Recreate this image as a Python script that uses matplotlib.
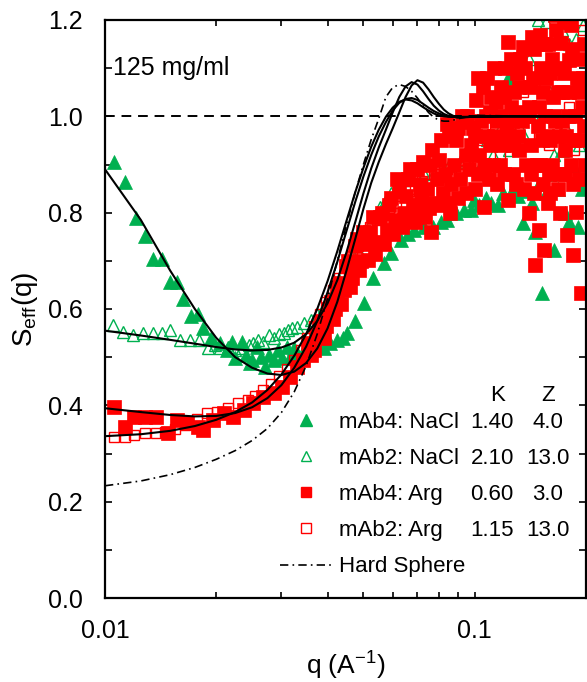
import numpy as np
import matplotlib.pyplot as plt
from matplotlib.lines import Line2D
from matplotlib.ticker import MultipleLocator, FuncFormatter, NullFormatter, LogLocator

# fonts / ticks
plt.rcParams['font.family'] = ['Liberation Sans', 'DejaVu Sans']
plt.rcParams['mathtext.fontset'] = 'custom'
plt.rcParams['mathtext.rm'] = 'Liberation Sans'
plt.rcParams['mathtext.it'] = 'Liberation Sans:italic'
plt.rcParams['xtick.direction'] = 'in'
plt.rcParams['ytick.direction'] = 'in'

GREEN = '#00B050'
RED = '#FF0000'

# ---- data: mAb4 NaCl (filled triangles)
q_4n = [0.0106, 0.0113, 0.0121, 0.0128, 0.0135, 0.0143, 0.0150, 0.0157, 0.0163, 0.0171,
        0.0178, 0.0184, 0.0193, 0.0205, 0.0214, 0.0221, 0.0225, 0.0235, 0.0241, 0.0247,
        0.0250, 0.0258, 0.0265, 0.0271, 0.0278, 0.0286, 0.0294, 0.0302, 0.0311, 0.0317,
        0.0324, 0.0333, 0.0345, 0.0360, 0.0375, 0.0390, 0.0407, 0.0425, 0.0440, 0.0452,
        0.0475, 0.0501, 0.0532, 0.0567, 0.0593, 0.0630, 0.0660, 0.0684, 0.0730, 0.0773,
        0.0810, 0.0843, 0.0890, 0.0935, 0.0978, 0.0995, 0.1030, 0.1070, 0.1110, 0.1158,
        0.1190, 0.1230, 0.1270, 0.1310, 0.1350, 0.1390, 0.1430, 0.1460, 0.1490, 0.1520,
        0.1560, 0.1600, 0.1640, 0.1680, 0.1720, 0.1760, 0.1800, 0.1850, 0.1900, 0.1950]
s_4n = [0.905, 0.864, 0.789, 0.752, 0.704, 0.704, 0.656, 0.656, 0.621, 0.585,
        0.590, 0.560, 0.540, 0.529, 0.515, 0.532, 0.498, 0.532, 0.505, 0.488,
        0.494, 0.521, 0.500, 0.480, 0.505, 0.494, 0.515, 0.498, 0.521, 0.500,
        0.519, 0.505, 0.515, 0.520, 0.525, 0.520, 0.529, 0.535, 0.540, 0.550,
        0.575, 0.612, 0.664, 0.695, 0.716, 0.743, 0.755, 0.764, 0.770, 0.770,
        0.780, 0.785, 0.800, 0.805, 0.805, 0.826, 0.815, 0.830, 0.820, 0.816,
        0.840, 1.080, 0.850, 0.835, 0.778, 0.845, 0.820, 0.760, 0.860, 0.633,
        0.840, 0.880, 0.722, 0.850, 0.930, 0.800, 0.780, 0.900, 0.770, 0.850]

# ---- mAb2 NaCl (open triangles)
q_2n = [0.0105, 0.0112, 0.0119, 0.0127, 0.0135, 0.0143, 0.0150, 0.0160, 0.0170, 0.0180,
        0.0190, 0.0198, 0.0205, 0.0215, 0.0225, 0.0235, 0.0245, 0.0252, 0.0260, 0.0268,
        0.0277, 0.0286, 0.0295, 0.0304, 0.0313, 0.0321, 0.0330, 0.0345, 0.0360, 0.0375,
        0.0390, 0.0403, 0.0415, 0.0430, 0.0453, 0.0468, 0.0482, 0.0497, 0.0512, 0.0535,
        0.0556, 0.0575, 0.0593, 0.0620, 0.0643, 0.0670, 0.0700, 0.0730, 0.0760, 0.0790,
        0.0820, 0.0850, 0.0880, 0.0910, 0.0940, 0.0970, 0.1000, 0.1040, 0.1080, 0.1120,
        0.1160, 0.1200, 0.1240, 0.1280, 0.1320, 0.1360, 0.1400, 0.1440, 0.1480, 0.1520,
        0.1560, 0.1600, 0.1640, 0.1680, 0.1720, 0.1760, 0.1800, 0.1840, 0.1880, 0.1920, 0.1960]
s_2n = [0.567, 0.552, 0.546, 0.550, 0.550, 0.550, 0.556, 0.535, 0.535, 0.535,
        0.519, 0.525, 0.519, 0.522, 0.515, 0.520, 0.525, 0.529, 0.535, 0.531,
        0.545, 0.540, 0.548, 0.550, 0.556, 0.560, 0.563, 0.570, 0.577, 0.590,
        0.604, 0.620, 0.633, 0.660, 0.702, 0.712, 0.722, 0.745, 0.764, 0.790,
        0.812, 0.826, 0.840, 0.855, 0.868, 0.870, 0.875, 0.880, 0.870, 0.890,
        0.885, 0.900, 0.880, 0.905, 0.910, 0.890, 0.930, 0.900, 0.950, 0.920,
        0.970, 1.000, 0.930, 1.050, 0.980, 0.960, 1.120, 1.000, 1.200, 0.950,
        1.195, 1.050, 0.920, 1.100, 1.180, 0.980, 1.150, 1.050, 1.160, 0.940, 1.190]

# ---- mAb4 Arg (filled squares)
q_4a = [0.0106, 0.0113, 0.0120, 0.0128, 0.0137, 0.0148, 0.0157, 0.0167, 0.0178, 0.0184,
        0.0196, 0.0210, 0.0222, 0.0237, 0.0252, 0.0268, 0.0286, 0.0302, 0.0317, 0.0331,
        0.0344, 0.0355, 0.0367, 0.0379, 0.0390, 0.0402, 0.0413, 0.0424, 0.0436, 0.0448,
        0.0460, 0.0473, 0.0486, 0.0500, 0.0515, 0.0530, 0.0546, 0.0562, 0.0578, 0.0593,
        0.0610, 0.0626, 0.0643, 0.0660, 0.0680, 0.0700, 0.0715, 0.0726, 0.0745, 0.0765,
        0.0790, 0.0810, 0.0830, 0.0850, 0.0877, 0.0900, 0.0930, 0.0945, 0.0955, 0.0980,
        0.1010, 0.1020, 0.1040, 0.1050, 0.1060, 0.1080, 0.1100, 0.1120, 0.1140, 0.1160,
        0.1180, 0.1200, 0.1230, 0.1230, 0.1260, 0.1280, 0.1300, 0.1320, 0.1350, 0.1350,
        0.1380, 0.1410, 0.1430, 0.1460, 0.1490, 0.1490, 0.1500, 0.1520, 0.1540, 0.1560,
        0.1590, 0.1620, 0.1650, 0.1680, 0.1710, 0.1740, 0.1750, 0.1780, 0.1800, 0.1820,
        0.1850, 0.1880, 0.1910, 0.1940, 0.1970,
        0.1000, 0.1030, 0.1070, 0.1090, 0.1110, 0.1130, 0.1150, 0.1170, 0.1190, 0.1210,
        0.1240, 0.1270, 0.1290, 0.1310, 0.1330, 0.1360, 0.1390, 0.1420, 0.1440, 0.1470,
        0.1510, 0.1530, 0.1550, 0.1580, 0.1600, 0.1630, 0.1660, 0.1690, 0.1720, 0.1760,
        0.1790, 0.1830, 0.1860, 0.1890, 0.1920, 0.1950, 0.1980, 0.1650, 0.1580, 0.1700,
        0.1250, 0.1400,
        0.0360, 0.0372, 0.0385, 0.0397, 0.0408, 0.0419, 0.0430, 0.0442, 0.0455, 0.0467,
        0.0480, 0.0493, 0.0507, 0.0522, 0.0538, 0.0554, 0.0570, 0.0586, 0.0602, 0.0618,
        0.0635, 0.0652, 0.0670, 0.0690, 0.0710, 0.0735, 0.0755, 0.0778, 0.0800, 0.0820,
        0.0840, 0.0865, 0.0888, 0.0912, 0.0925, 0.0965, 0.0990, 0.1000, 0.0860, 0.0760,
        0.1020, 0.1060, 0.1080, 0.1100, 0.1130, 0.1150, 0.1170, 0.1200, 0.1220, 0.1250,
        0.1270, 0.1290, 0.1320, 0.1340, 0.1370, 0.1400, 0.1420, 0.1450, 0.1480, 0.1500,
        0.1530, 0.1550, 0.1570, 0.1600, 0.1620, 0.1640, 0.1670, 0.1700, 0.1720, 0.1740,
        0.1770, 0.1800, 0.1820, 0.1840, 0.1870, 0.1900, 0.1930, 0.1960, 0.1990, 0.1680,
        0.1450, 0.1600,
        0.0620, 0.0650, 0.0700, 0.0750, 0.0800, 0.0850, 0.0900, 0.0950]
s_4a = [0.397, 0.355, 0.376, 0.376, 0.376, 0.343, 0.370, 0.363, 0.355, 0.349,
        0.370, 0.384, 0.376, 0.390, 0.405, 0.417, 0.425, 0.438, 0.459, 0.480,
        0.494, 0.530, 0.515, 0.560, 0.540, 0.600, 0.580, 0.640, 0.610, 0.690,
        0.646, 0.730, 0.680, 0.760, 0.702, 0.790, 0.740, 0.800, 0.765, 0.830,
        0.785, 0.845, 0.800, 0.870, 0.815, 0.890, 0.832, 0.905, 0.850, 0.930,
        0.870, 0.950, 0.880, 0.960, 0.900, 0.975, 0.988, 0.920, 1.000, 0.940,
        1.034, 0.880, 0.990, 1.061, 0.812, 0.960, 1.010, 0.900, 1.030, 0.950,
        1.060, 0.880, 1.154, 0.826, 0.990, 1.050, 1.090, 0.930, 1.144, 1.000,
        0.900, 1.060, 1.165, 0.691, 0.764, 1.020, 1.169, 0.950, 0.722, 1.080,
        0.880, 1.120, 0.990, 0.850, 1.152, 1.196, 0.930, 0.754, 1.117, 0.900,
        0.712, 0.801, 1.050, 0.633, 0.980,
        0.960, 0.920, 1.000, 0.870, 1.040, 0.960, 0.860, 1.000, 0.940, 1.100,
        0.960, 0.880, 1.010, 0.960, 1.120, 0.850, 1.000, 0.940, 1.080, 0.900,
        1.100, 0.860, 1.000, 1.150, 0.950, 1.040, 1.180, 0.960, 1.050, 0.880,
        1.000, 1.140, 0.950, 1.080, 0.870, 1.020, 1.150, 1.210, 0.820, 0.800,
        1.020, 0.800,
        0.505, 0.545, 0.575, 0.565, 0.615, 0.600, 0.655, 0.640, 0.700, 0.665,
        0.745, 0.700, 0.735, 0.760, 0.715, 0.790, 0.735, 0.815, 0.755, 0.870,
        0.770, 0.835, 0.890, 0.780, 0.860, 0.790, 0.900, 0.820, 0.910, 0.840,
        0.985, 0.860, 0.950, 0.870, 1.000, 0.890, 0.975, 0.850, 0.800, 0.760,
        1.080, 0.900, 1.080, 0.940, 1.100, 0.990, 0.900, 1.040, 0.980, 1.120,
        0.940, 0.860, 1.060, 0.990, 1.100, 1.020, 0.880, 1.140, 0.980, 0.900,
        1.050, 1.150, 0.960, 1.090, 0.900, 1.000, 1.100, 0.880, 0.990, 1.090,
        0.960, 1.050, 1.190, 0.860, 1.000, 1.120, 0.950, 1.080, 0.900, 1.050,
        0.840, 0.840,
        0.775, 0.790, 0.805, 0.810, 0.815, 0.820, 0.830, 0.840]

# ---- mAb2 Arg (open squares)
q_2a = [0.0106, 0.0113, 0.0120, 0.0128, 0.0137, 0.0145, 0.0155, 0.0165, 0.0177, 0.0189,
        0.0201, 0.0215, 0.0229, 0.0243, 0.0255, 0.0268, 0.0282, 0.0296, 0.0310, 0.0324,
        0.0338, 0.0352, 0.0367, 0.0382, 0.0397, 0.0413, 0.0430, 0.0447, 0.0465, 0.0483,
        0.0502, 0.0522, 0.0543, 0.0565, 0.0588, 0.0612, 0.0637, 0.0663, 0.0690, 0.0718,
        0.0747, 0.0777, 0.0808, 0.0840, 0.0873, 0.0907, 0.0942, 0.0978, 0.1015, 0.1053,
        0.1092, 0.1132, 0.1173, 0.1215, 0.1258, 0.1302, 0.1347, 0.1393, 0.1440, 0.1488,
        0.1537, 0.1587, 0.1638, 0.1690, 0.1743, 0.1797, 0.1852, 0.1908, 0.1965]
s_2a = [0.334, 0.334, 0.338, 0.342, 0.342, 0.345, 0.350, 0.360, 0.372, 0.384,
        0.386, 0.395, 0.405, 0.411, 0.420, 0.432, 0.445, 0.460, 0.475, 0.495,
        0.515, 0.540, 0.565, 0.590, 0.615, 0.640, 0.665, 0.690, 0.710, 0.730,
        0.750, 0.770, 0.785, 0.795, 0.810, 0.820, 0.835, 0.845, 0.850, 0.865,
        0.860, 0.880, 0.875, 0.890, 0.900, 0.880, 0.910, 0.920, 0.900, 0.950,
        0.890, 0.980, 0.920, 0.960, 1.000, 0.930, 1.050, 0.900, 1.020, 0.960,
        1.100, 0.940, 1.000, 0.880, 1.150, 1.020, 0.930, 1.120, 1.180]

# ---- model curves (fits and hard sphere)
q_fit = [0.0100, 0.0125, 0.0150, 0.0175, 0.0200, 0.0225, 0.0250, 0.0275, 0.0300, 0.0325,
         0.0350, 0.0375, 0.0400, 0.0425, 0.0450, 0.0475, 0.0500, 0.0525, 0.0550, 0.0575,
         0.0600, 0.0625, 0.0650, 0.0675, 0.0700, 0.0725, 0.0750, 0.0775, 0.0800, 0.0825,
         0.0850, 0.0875, 0.0900, 0.1000, 0.1200, 0.1500, 0.2000]
fit_4n = [0.890, 0.785, 0.680, 0.600, 0.540, 0.500, 0.478, 0.466, 0.463, 0.470,
          0.488, 0.518, 0.560, 0.615, 0.680, 0.745, 0.808, 0.862, 0.905, 0.942,
          0.975, 1.008, 1.040, 1.064, 1.075, 1.070, 1.056, 1.040, 1.026, 1.014,
          1.006, 1.001, 0.999, 0.999, 1.000, 1.000, 1.000]
fit_2n = [0.555, 0.545, 0.536, 0.528, 0.521, 0.516, 0.514, 0.515, 0.520, 0.530,
          0.548, 0.575, 0.612, 0.660, 0.718, 0.780, 0.840, 0.892, 0.935, 0.972,
          1.008, 1.040, 1.062, 1.071, 1.066, 1.052, 1.036, 1.022, 1.012, 1.005,
          1.001, 0.999, 0.998, 0.999, 1.000, 1.000, 1.000]
fit_4a = [0.394, 0.386, 0.380, 0.377, 0.378, 0.384, 0.396, 0.415, 0.442, 0.478,
          0.522, 0.575, 0.635, 0.698, 0.762, 0.822, 0.875, 0.920, 0.958, 0.988,
          1.012, 1.028, 1.036, 1.038, 1.034, 1.026, 1.018, 1.011, 1.006, 1.002,
          1.000, 0.999, 0.998, 0.999, 1.000, 1.000, 1.000]
fit_2a = [0.336, 0.340, 0.347, 0.357, 0.370, 0.386, 0.406, 0.432, 0.464, 0.503,
          0.548, 0.600, 0.658, 0.720, 0.783, 0.842, 0.893, 0.937, 0.972, 0.999,
          1.018, 1.030, 1.035, 1.033, 1.027, 1.019, 1.012, 1.006, 1.002, 1.000,
          0.999, 0.999, 0.998, 0.999, 1.000, 1.000, 1.000]
hard_sphere = [0.233, 0.243, 0.256, 0.271, 0.288, 0.306, 0.327, 0.352, 0.385, 0.428,
               0.482, 0.548, 0.622, 0.700, 0.775, 0.842, 0.900, 0.952, 0.995, 1.040,
               1.060, 1.066, 1.062, 1.052, 1.038, 1.022, 1.008, 0.998, 0.992, 0.990,
               0.990, 0.992, 0.995, 1.002, 1.001, 1.000, 1.000]

labels = ['mAb4: NaCl', 'mAb2: NaCl', 'mAb4: Arg', 'mAb2: Arg', 'Hard Sphere']
K_vals = ['1.40', '2.10', '0.60', '1.15']
Z_vals = ['4.0', '13.0', '3.0', '13.0']

HS_STYLE = (0, (5, 2.5, 1, 2.5))

fig = plt.figure(figsize=(5.87, 6.82), dpi=100)
ax = fig.add_axes([105 / 587, 1 - 598 / 682, 481 / 587, 578 / 682])

# data
ax.plot(q_2n, s_2n, ls='none', marker='^', ms=8.5, mfc='none', mec=GREEN, mew=1.0)
ax.plot(q_4n, s_4n, ls='none', marker='^', ms=10.5, mfc=GREEN, mec=GREEN, mew=0.5)
ax.plot(q_2a, s_2a, ls='none', marker='s', ms=7.5, mfc='none', mec=RED, mew=1.0)
ax.plot(q_4a, s_4a, ls='none', marker='s', ms=10.5, mfc=RED, mec=RED, mew=0.5)

# fits
for f in [fit_4n, fit_2n, fit_4a, fit_2a]:
    ax.plot(q_fit, f, color='k', lw=1.5, zorder=5)
ax.plot(q_fit, hard_sphere, color='k', lw=1.2, ls=HS_STYLE, zorder=5)
ax.axhline(1.0, color='k', lw=1.4, ls=(0, (5, 3.5)), zorder=4)

ax.set_xscale('log')
ax.set_xlim(0.01, 0.2)
ax.set_ylim(0, 1.2)
ax.xaxis.set_major_locator(LogLocator(base=10))
ax.xaxis.set_minor_locator(LogLocator(base=10, subs=np.arange(2, 10)))
ax.xaxis.set_major_formatter(FuncFormatter(lambda v, p: f'{v:g}'))
ax.xaxis.set_minor_formatter(NullFormatter())
ax.yaxis.set_major_locator(MultipleLocator(0.2))
ax.yaxis.set_minor_locator(MultipleLocator(0.1))
ax.yaxis.set_major_formatter(FuncFormatter(lambda v, p: f'{v:.1f}'))

ax.tick_params(which='both', top=True, right=True, direction='in', width=1.2)
ax.tick_params(axis='x', which='both', length=4.5, labelsize=18, pad=15)
ax.tick_params(axis='y', which='both', length=5, labelsize=18, pad=16)
for sp in ax.spines.values():
    sp.set_linewidth(1.6)

ax.set_xlabel(r'q (A$^{\mathregular{-1}}$)', fontsize=19, labelpad=5)
ax.set_ylabel(r'S$_{\mathregular{eff}}$(q)', fontsize=20, labelpad=6)

ax.text(0.017, 0.917, '125 mg/ml', transform=ax.transAxes, fontsize=18, va='center')

# legend
handles = [Line2D([], [], ls='none', marker='^', ms=8, color=GREEN),
           Line2D([], [], ls='none', marker='^', ms=7, mfc='none', mec=GREEN, mew=1),
           Line2D([], [], ls='none', marker='s', ms=7.5, color=RED),
           Line2D([], [], ls='none', marker='s', ms=7.5, mfc='none', mec=RED, mew=1),
           Line2D([], [], color='k', lw=1.2, ls=HS_STYLE)]
leg = ax.legend(handles, labels, loc='upper left', bbox_to_anchor=(0.364, 0.322),
                frameon=False, fontsize=16, handlelength=2.3, handletextpad=0.35,
                labelspacing=0.68, borderpad=0, borderaxespad=0)

fig.canvas.draw()
inv = ax.transAxes.inverted()
row_y = []
for t in leg.get_texts()[:4]:
    bb = t.get_window_extent()
    row_y.append(inv.transform((0, (bb.y0 + bb.y1) / 2))[1])
for yk, kv, zv in zip(row_y, K_vals, Z_vals):
    ax.text(0.805, yk, kv, transform=ax.transAxes, fontsize=16, ha='center', va='center')
    ax.text(0.921, yk, zv, transform=ax.transAxes, fontsize=16, ha='center', va='center')
ax.text(0.817, 0.350, 'K', transform=ax.transAxes, fontsize=16, ha='center', va='center')
ax.text(0.921, 0.350, 'Z', transform=ax.transAxes, fontsize=16, ha='center', va='center')

fig.savefig('out.png', dpi=100)
